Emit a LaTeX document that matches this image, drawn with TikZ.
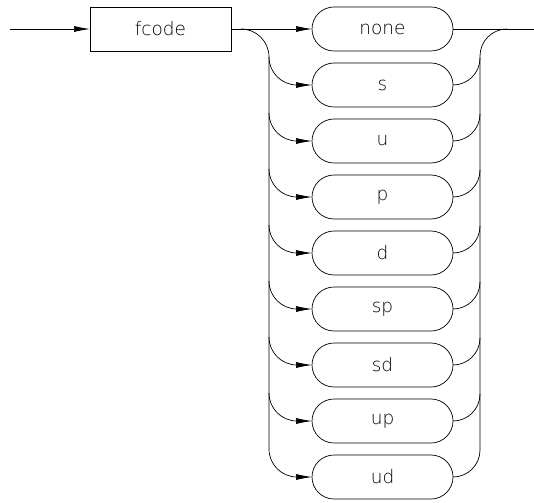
\documentclass[tikz,border=0pt]{standalone}
\usepackage{fontspec}
\setmainfont{DejaVu Sans ExtraLight}
\usetikzlibrary{arrows.meta}
\begin{document}
\begin{tikzpicture}[x=1pt,y=-1pt,line width=0.7pt,
  arr/.style={-{Latex[length=16pt,width=6pt]}},
  lbl/.style={font=\fontsize{18.5}{20}\selectfont},
  term/.style={draw,rectangle,rounded corners=22pt,minimum width=141pt,minimum height=44pt,inner sep=0pt,outer sep=0pt,lbl},
  nonterm/.style={draw,rectangle,minimum width=141pt,minimum height=44pt,inner sep=0pt,outer sep=0pt,lbl}]
\useasboundingbox (0,0) rectangle (534,502);
\node[nonterm] (fcode) at (160.5,29) {fcode};
\coordinate (in) at (10,29);
\coordinate (out) at (534,29);
\draw[arr] (in) -- (fcode.west);
\foreach \lab [count=\i from 0] in {none,s,u,p,d,sp,sd,up,ud}
  {\node[term] (t\i) at (382.5,29+56*\i) {\lab};}
\draw[arr] (fcode.east) -- (t0.west);
\draw (t0.east) -- (out);
% left rail
\coordinate (lsplit) at (241,29);
\coordinate (lbot) at (269,449);
\draw (lsplit) arc[start angle=90,end angle=0,radius=28pt] -- (lbot);
\foreach \i in {1,...,8}
  {\draw[arr] (269,29+56*\i-28) arc[start angle=180,end angle=270,radius=28pt] -- (t\i.west);}
% right rail
\coordinate (rjoin) at (507,29);
\coordinate (rbot) at (480,450);
\draw (rjoin) arc[start angle=90,end angle=180,radius=27pt] -- (rbot);
\foreach \i in {1,...,8}
  {\draw (t\i.east) arc[start angle=270,end angle=360,radius=27pt];}
\end{tikzpicture}
\end{document}
